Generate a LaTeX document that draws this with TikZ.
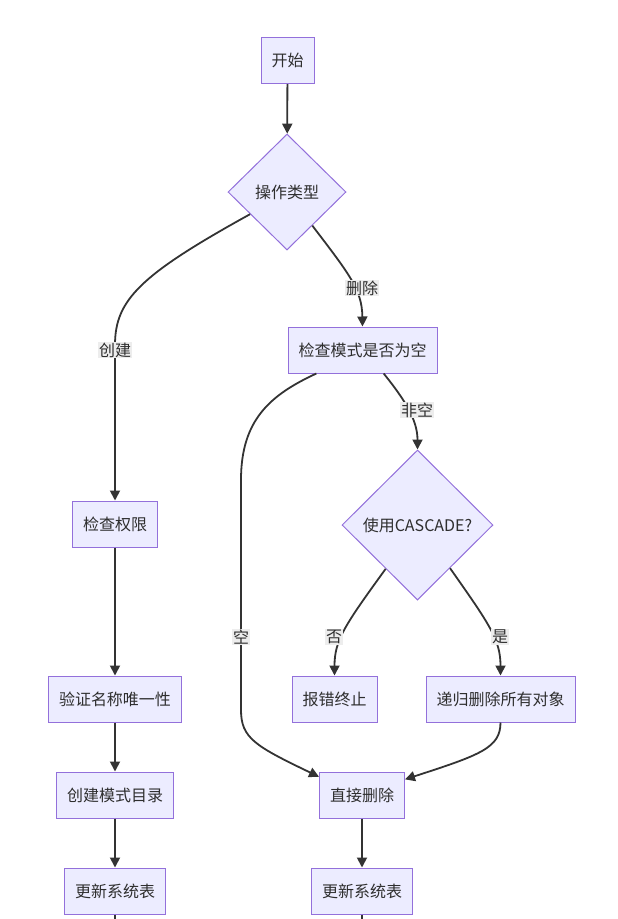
\documentclass[tikz,border=0pt]{standalone}
\usepackage{fontspec}
\setmainfont{Noto Sans CJK SC}
\usetikzlibrary{shapes.geometric,arrows.meta}
\definecolor{nfill}{HTML}{ECECFF}
\definecolor{ndraw}{HTML}{9370DB}
\definecolor{ln}{HTML}{333333}
\definecolor{lblbg}{HTML}{EDEDED}
\tikzset{
  box/.style={rectangle,draw=ndraw,fill=nfill,line width=1pt,inner xsep=10.5pt,inner ysep=0pt,minimum height=46pt,font=\fontsize{16}{19}\selectfont,text=ln!90!black},
  dia/.style={diamond,draw=ndraw,fill=nfill,line width=1pt,inner sep=0pt,aspect=1,font=\fontsize{16}{19}\selectfont,text=ln!90!black},
  edge/.style={draw=ln,line width=1.8pt,-{Triangle[length=10pt,width=10pt]}},
  plain/.style={draw=ln,line width=1.8pt},
  lbl/.style={fill=lblbg,inner sep=1pt,font=\fontsize{16}{19}\selectfont,text=ln!90!black}
}
\begin{document}
\begin{tikzpicture}[x=1pt,y=-1pt]
\useasboundingbox (0,0) rectangle (618,919);
\node[box] (start) at (287.5,60.5) {开始};
\node[dia,minimum width=118pt,minimum height=116pt] (op) at (287,192) {操作类型};
\node[box] (chk) at (362.5,350) {检查模式是否为空};
\node[dia,minimum width=151pt,minimum height=150pt] (cas) at (417.5,525) {使用CASCADE?};
\node[box] (perm) at (115,524) {检查权限};
\node[box] (uniq) at (115,699) {验证名称唯一性};
\node[box] (mkdir) at (115,795) {创建模式目录};
\node[box] (upd1) at (115,891) {更新系统表};
\node[box] (err) at (334.5,699) {报错终止};
\node[box] (rec) at (500.5,699) {递归删除所有对象};
\node[box] (dir) at (362,795) {直接删除};
\node[box] (upd2) at (362,891) {更新系统表};
\coordinate (e1) at (115,919);
\coordinate (e2) at (362,919);

\draw[edge] (start) -- (op);
\draw[edge] (op.211) .. controls (140,275) and (115,300) .. (115,345) -- (perm.north);
\draw[edge] (op.-53) .. controls (350,275) and (362,290) .. (chk.north);
\draw[edge] (chk.207) .. controls (270,395) and (241,420) .. (241,480) -- (241,710) .. controls (241,738) and (255,746) .. (dir.157);
\draw[edge] (chk.-48) .. controls (405,400) and (417.5,420) .. (cas.north);
\draw[edge] (cas.234) .. controls (345,625) and (334.5,640) .. (err.north);
\draw[edge] (cas.-53) .. controls (490,625) and (500.5,640) .. (rec.north);
\draw[edge] (rec.south) .. controls (500.5,748) and (480,755) .. (dir.20);
\draw[edge] (perm) -- (uniq);
\draw[edge] (uniq) -- (mkdir);
\draw[edge] (mkdir) -- (upd1);
\draw[edge] (dir) -- (upd2);
\draw[plain] (upd1) -- (e1);
\draw[plain] (upd2) -- (e2);

\node[lbl] (l1) at (115,350) {创建};
\node[lbl] (l2) at (362,288) {删除};
\node[lbl] (l3) at (417,410) {非空};
\node[lbl] (l4) at (241,637) {空};
\node[lbl] (l5) at (334,637) {否};
\node[lbl] (l6) at (500,637) {是};
\end{tikzpicture}
\end{document}
